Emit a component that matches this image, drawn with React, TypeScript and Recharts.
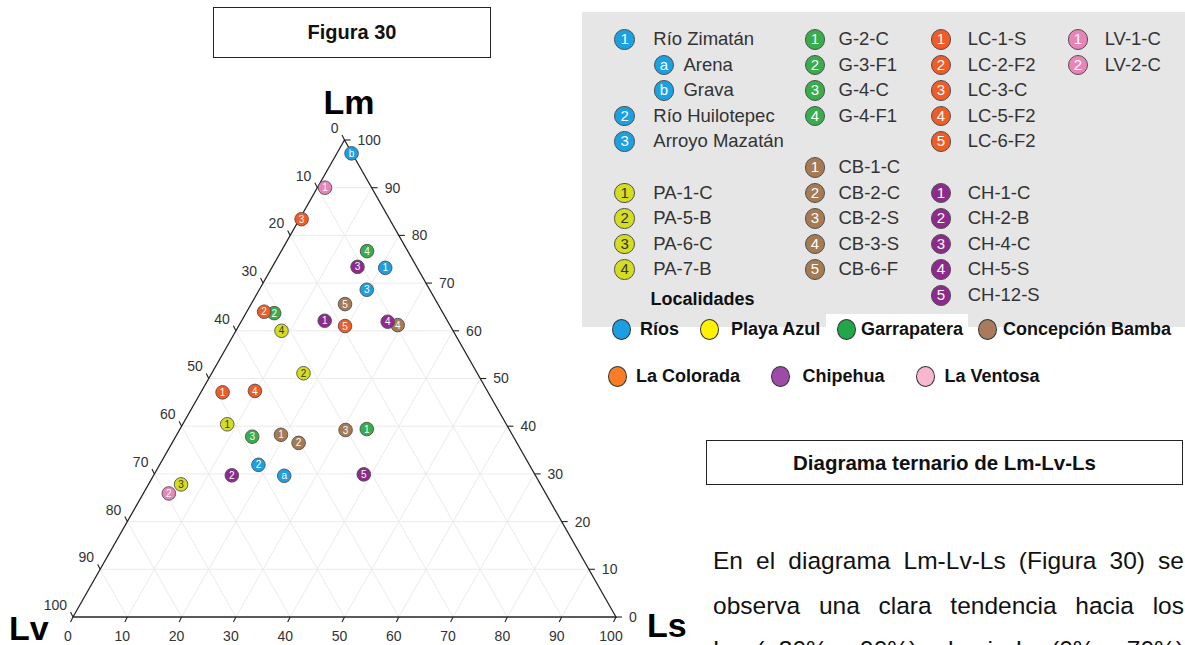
import React from 'react';
import { ScatterChart, Scatter, XAxis, YAxis } from 'recharts';

// ---------- data (ternary: Lm, Ls; Lv = 100 - Lm - Ls) ----------
const riosTags = ['1', 'a', 'b', '2', '3'];
const riosNames = ['Río Zimatán', 'Arena', 'Grava', 'Río Huilotepec', 'Arroyo Mazatán'];
const riosLm = [73.2, 29.6, 97.2, 31.9, 68.6];
const riosLs = [20.9, 24.1, 2.7, 18.2, 19.8];

const playaTags = ['1', '2', '3', '4'];
const playaNames = ['PA-1-C', 'PA-5-B', 'PA-6-C', 'PA-7-B'];
const playaLm = [40.4, 51.1, 27.8, 60.0];
const playaLs = [8.2, 16.9, 6.0, 8.4];

const garraTags = ['1', '2', '3', '4'];
const garraNames = ['G-2-C', 'G-3-F1', 'G-4-C', 'G-4-F1'];
const garraLm = [39.4, 63.7, 37.8, 76.7];
const garraLs = [34.4, 5.2, 14.1, 15.8];

const cbTags = ['1', '2', '3', '4', '5'];
const cbNames = ['CB-1-C', 'CB-2-C', 'CB-2-S', 'CB-3-S', 'CB-6-F'];
const cbLm = [38.2, 36.5, 39.2, 61.2, 65.6];
const cbLs = [19.2, 23.3, 30.6, 29.2, 17.3];

const lcTags = ['1', '2', '3', '4', '5'];
const lcNames = ['LC-1-S', 'LC-2-F2', 'LC-3-C', 'LC-5-F2', 'LC-6-F2'];
const lcLm = [47.1, 64.0, 83.4, 47.4, 61.0];
const lcLs = [4.0, 3.2, 0.4, 9.8, 19.6];

const chTags = ['1', '2', '3', '4', '5'];
const chNames = ['CH-1-C', 'CH-2-B', 'CH-4-C', 'CH-5-S', 'CH-12-S'];
const chLm = [62.1, 29.7, 73.4, 61.9, 29.9];
const chLs = [15.3, 14.4, 15.7, 27.0, 38.6];

const lvTags = ['1', '2'];
const lvNames = ['LV-1-C', 'LV-2-C'];
const lvLm = [90.0, 25.9];
const lvLs = [1.4, 4.7];

const localidades = ['Ríos', 'Playa Azul', 'Garrapatera', 'Concepción Bamba', 'La Colorada', 'Chipehua', 'La Ventosa'];
const axisTicks = [0, 10, 20, 30, 40, 50, 60, 70, 80, 90, 100];
const gridValues = [10, 20, 30, 40, 50, 60, 70, 80, 90];

// ---------- styles ----------
const FONT = '"Liberation Sans", Arial, Helvetica, sans-serif';
const COL = {
  rios: '#1BA1E2',
  playa: '#D4DD22',
  garra: '#38AD4B',
  cb: '#A67B53',
  lc: '#F15B25',
  ch: '#8E2A8E',
  lv: '#E884B8',
};
const LOC_COL = ['#1A9FE3', '#FFF200', '#22A64A', '#A87B5B', '#F97D26', '#9E4BA8', '#F9B7CF'];

const X_MIN = -13.4438;
const X_MAX = 204.7882;
const Y_MIN = -5.87;
const Y_MAX = 129.35;

const toPts = (tags: string[], lm: number[], ls: number[]) =>
  tags.map((t, i) => ({ x: ls[i] + lm[i] / 2, y: lm[i], tag: t }));

const Empty = () => <g />;

const makeMark = (fill: string, textColor: string) => (props: any) => {
  const { cx, cy, payload } = props;
  if (cx == null || cy == null) return <g />;
  return (
    <g>
      <circle cx={cx} cy={cy} r={6.8} fill={fill} stroke="#505050" strokeWidth={0.9} />
      <text x={cx} y={cy + 3.6} textAnchor="middle" fontSize={10} fill={textColor} fontFamily={FONT}>
        {payload.tag}
      </text>
    </g>
  );
};

const tickShape = (kind: 'lm' | 'lv' | 'ls') => (props: any) => {
  const { cx, cy, payload } = props;
  if (cx == null || cy == null) return <g />;
  let line: [number, number] = [0, 0];
  let tx = cx;
  let ty = cy;
  let anchor: 'start' | 'end' | 'middle' = 'middle';
  if (kind === 'lm') {
    line = [6, 0];
    tx = cx + 13;
    ty = cy + 5;
    anchor = 'start';
  } else if (kind === 'lv') {
    line = [-2.5, -5];
    tx = cx - 6;
    ty = cy - 12 + 5;
    anchor = 'end';
  } else {
    line = [-2.5, 5];
    tx = cx - 5;
    ty = cy + 19 + 5;
    anchor = 'middle';
  }
  return (
    <g>
      <line x1={cx} y1={cy} x2={cx + line[0]} y2={cy + line[1]} stroke="#222" strokeWidth={1.1} />
      <text x={tx} y={ty} textAnchor={anchor} fontSize={14} fill="#333" fontFamily={FONT}>
        {payload.label}
      </text>
    </g>
  );
};

const gridSegs: { x: number; y: number }[][] = [];
gridValues.forEach((v) => {
  gridSegs.push([{ x: v / 2, y: v }, { x: 100 - v / 2, y: v }]); // const Lm
  gridSegs.push([{ x: v, y: 0 }, { x: 50 + v / 2, y: 100 - v }]); // const Ls
  gridSegs.push([{ x: 100 - v, y: 0 }, { x: (100 - v) / 2, y: 100 - v }]); // const Lv
});
const edgePts = [
  { x: 0, y: 0 },
  { x: 100, y: 0 },
  { x: 50, y: 100 },
  { x: 0, y: 0 },
];
const lmTicks = axisTicks.map((v) => ({ x: 100 - v / 2, y: v, label: String(v) }));
const lvTicks = axisTicks.map((v) => ({ x: (100 - v) / 2, y: 100 - v, label: String(v) }));
const lsTicks = axisTicks.map((v) => ({ x: v, y: 0, label: String(v) }));

// ---------- legend helpers ----------
const rowY = (i: number) => 39 + i * 25.6;
const ICON_X = [624.4, 814.6, 940.7, 1077.7];
const TEXT_X = [653.3, 838.5, 967.7, 1104.7];

function Badge({ x, y, fill, tag, dark }: { x: number; y: number; fill: string; tag: string; dark?: boolean }) {
  return (
    <div
      style={{
        position: 'absolute',
        left: x - 10,
        top: y - 10,
        width: 18.5,
        height: 18.5,
        borderRadius: '50%',
        background: fill,
        border: '1px solid #505050',
        color: dark ? '#333' : '#fff',
        fontSize: 15,
        lineHeight: '18.5px',
        textAlign: 'center',
        fontFamily: FONT,
      }}
    >
      {tag}
    </div>
  );
}

function Label({ x, y, text, size = 18.5, bold = false, color = '#333' }: any) {
  return (
    <div
      style={{
        position: 'absolute',
        left: x,
        top: y - 12,
        height: 24,
        lineHeight: '24px',
        fontSize: size,
        fontWeight: bold ? 'bold' : 'normal',
        color,
        whiteSpace: 'nowrap',
        fontFamily: FONT,
      }}
    >
      {text}
    </div>
  );
}

function LegendItem({ col, row, fill, tag, name, sub, dark }: any) {
  const ix = sub ? 663.7 : ICON_X[col];
  const tx = sub ? 683.4 : TEXT_X[col];
  const y = rowY(row);
  return (
    <>
      <Badge x={ix} y={y} fill={fill} tag={tag} dark={dark} />
      <Label x={tx} y={y} text={name} />
    </>
  );
}

const locPos = [
  { cx: 621, cy: 329, tx: 640 },
  { cx: 708.5, cy: 329, tx: 731 },
  { cx: 846, cy: 329, tx: 861 },
  { cx: 987, cy: 329, tx: 1003 },
  { cx: 617, cy: 376, tx: 636 },
  { cx: 780, cy: 376, tx: 802.5 },
  { cx: 925, cy: 376, tx: 944.5 },
];

export default function App() {
  return (
    <div
      style={{
        position: 'absolute',
        left: 0,
        top: 0,
        width: 1185,
        height: 645,
        background: '#fff',
        overflow: 'hidden',
        fontFamily: FONT,
      }}
    >
      <div style={{ position: 'absolute', left: 0, top: 0 }}>
        <ScatterChart width={1185} height={645} margin={{ top: 0, right: 0, bottom: 0, left: 0 }}>
          <XAxis type="number" dataKey="x" domain={[X_MIN, X_MAX]} hide allowDataOverflow />
          <YAxis type="number" dataKey="y" domain={[Y_MIN, Y_MAX]} hide allowDataOverflow width={0} />
          {gridSegs.map((seg, i) => (
            <Scatter
              key={'g' + i}
              data={seg}
              line={{ stroke: '#ebebeb', strokeWidth: 1 }}
              shape={<Empty />}
              isAnimationActive={false}
              legendType="none"
            />
          ))}
          <Scatter
            data={edgePts}
            line={{ stroke: '#262626', strokeWidth: 1.3 }}
            shape={<Empty />}
            isAnimationActive={false}
            legendType="none"
          />
          <Scatter data={lmTicks} shape={tickShape('lm')} isAnimationActive={false} legendType="none" />
          <Scatter data={lvTicks} shape={tickShape('lv')} isAnimationActive={false} legendType="none" />
          <Scatter data={lsTicks} shape={tickShape('ls')} isAnimationActive={false} legendType="none" />
          <Scatter name="Ríos" data={toPts(riosTags, riosLm, riosLs)} shape={makeMark(COL.rios, '#fff')} isAnimationActive={false} />
          <Scatter name="Playa Azul" data={toPts(playaTags, playaLm, playaLs)} shape={makeMark(COL.playa, '#3a3a10')} isAnimationActive={false} />
          <Scatter name="Garrapatera" data={toPts(garraTags, garraLm, garraLs)} shape={makeMark(COL.garra, '#fff')} isAnimationActive={false} />
          <Scatter name="Concepción Bamba" data={toPts(cbTags, cbLm, cbLs)} shape={makeMark(COL.cb, '#fff')} isAnimationActive={false} />
          <Scatter name="La Colorada" data={toPts(lcTags, lcLm, lcLs)} shape={makeMark(COL.lc, '#fff')} isAnimationActive={false} />
          <Scatter name="Chipehua" data={toPts(chTags, chLm, chLs)} shape={makeMark(COL.ch, '#fff')} isAnimationActive={false} />
          <Scatter name="La Ventosa" data={toPts(lvTags, lvLm, lvLs)} shape={makeMark(COL.lv, '#fff')} isAnimationActive={false} />
        </ScatterChart>
      </div>

      {/* Axis corner labels */}
      <div style={{ position: 'absolute', left: 299, top: 83, width: 100, textAlign: 'center', fontSize: 34, fontWeight: 'bold', lineHeight: '38px', color: '#000' }}>Lm</div>
      <div style={{ position: 'absolute', left: 9, top: 609, fontSize: 34, fontWeight: 'bold', lineHeight: '38px', color: '#000' }}>Lv</div>
      <div style={{ position: 'absolute', left: 647, top: 606, fontSize: 34, fontWeight: 'bold', lineHeight: '38px', color: '#000' }}>Ls</div>

      {/* Figura 30 box */}
      <div
        style={{
          position: 'absolute',
          left: 213,
          top: 7,
          width: 276,
          height: 49,
          border: '1.5px solid #222',
          textAlign: 'center',
          lineHeight: '49px',
          fontSize: 20,
          fontWeight: 'bold',
          color: '#111',
        }}
      >
        Figura 30
      </div>

      {/* Legend panel */}
      <div style={{ position: 'absolute', left: 582, top: 12, width: 603, height: 315, background: '#e6e6e6' }} />
      <div style={{ position: 'absolute', left: 826, top: 314, width: 142, height: 14, background: '#fff' }} />

      {riosTags.map((t, i) => (
        <LegendItem key={'r' + i} col={0} row={i} fill={COL.rios} tag={t} name={riosNames[i]} sub={t === 'a' || t === 'b'} />
      ))}
      {playaTags.map((t, i) => (
        <LegendItem key={'p' + i} col={0} row={6 + i} fill={COL.playa} tag={t} name={playaNames[i]} dark />
      ))}
      {garraTags.map((t, i) => (
        <LegendItem key={'g' + i} col={1} row={i} fill={COL.garra} tag={t} name={garraNames[i]} />
      ))}
      {cbTags.map((t, i) => (
        <LegendItem key={'c' + i} col={1} row={5 + i} fill={COL.cb} tag={t} name={cbNames[i]} />
      ))}
      {lcTags.map((t, i) => (
        <LegendItem key={'l' + i} col={2} row={i} fill={COL.lc} tag={t} name={lcNames[i]} />
      ))}
      {chTags.map((t, i) => (
        <LegendItem key={'h' + i} col={2} row={6 + i} fill={COL.ch} tag={t} name={chNames[i]} />
      ))}
      {lvTags.map((t, i) => (
        <LegendItem key={'v' + i} col={3} row={i} fill={COL.lv} tag={t} name={lvNames[i]} />
      ))}
      <Label x={650.6} y={299} text="Localidades" bold size={18} color="#111" />

      {/* Localidades legend */}
      {localidades.map((name, i) => (
        <React.Fragment key={'loc' + i}>
          <div
            style={{
              position: 'absolute',
              left: locPos[i].cx - 9,
              top: locPos[i].cy - 10,
              width: 17,
              height: 19,
              borderRadius: '50%',
              background: LOC_COL[i],
              border: '1px solid #333',
            }}
          />
          <Label x={locPos[i].tx} y={locPos[i].cy} text={name} bold size={18} color="#111" />
        </React.Fragment>
      ))}

      {/* Title box */}
      <div
        style={{
          position: 'absolute',
          left: 706,
          top: 440,
          width: 475,
          height: 43,
          border: '1.5px solid #222',
          textAlign: 'center',
          lineHeight: '43px',
          fontSize: 20.5,
          fontWeight: 'bold',
          color: '#111',
        }}
      >
        Diagrama ternario de Lm-Lv-Ls
      </div>

      {/* Paragraph */}
      {[
        { top: 547, text: 'En el diagrama Lm-Lv-Ls (Figura 30) se' },
        { top: 592, text: 'observa una clara tendencia hacia los' },
        { top: 636, text: 'Lm (~30% – 90%) y hacia Lv (0% – 70%)' },
      ].map((l, i) => (
        <div
          key={'pl' + i}
          style={{
            position: 'absolute',
            left: 713,
            top: l.top,
            width: 471,
            height: 28,
            lineHeight: '28px',
            fontSize: 24.5,
            color: '#111',
            textAlign: 'justify',
            textAlignLast: 'justify',
            whiteSpace: 'nowrap',
          }}
        >
          {l.text}
        </div>
      ))}
    </div>
  );
}
